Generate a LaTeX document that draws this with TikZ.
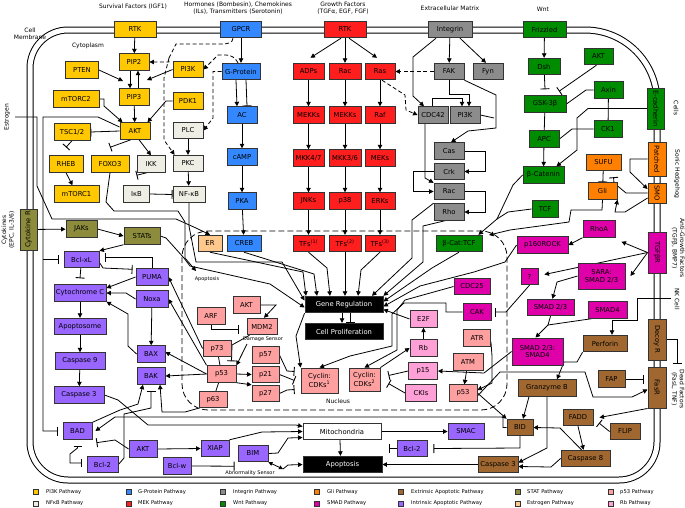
\documentclass[tikz,border=0pt]{standalone}
\usepackage{fontspec}
\usepackage{graphicx}
\setmainfont{DejaVu Sans}
\usetikzlibrary{arrows.meta}
\definecolor{cpi}{RGB}{255,200,0}
\definecolor{cnf}{RGB}{238,238,228}
\definecolor{cgp}{RGB}{51,136,255}
\definecolor{cmek}{RGB}{255,30,30}
\definecolor{cint}{RGB}{140,140,140}
\definecolor{cwnt}{RGB}{0,140,0}
\definecolor{cgli}{RGB}{255,128,0}
\definecolor{csmad}{RGB}{224,0,170}
\definecolor{cext}{RGB}{160,104,48}
\definecolor{cintr}{RGB}{153,102,255}
\definecolor{cstat}{RGB}{140,140,60}
\definecolor{cestr}{RGB}{255,200,140}
\definecolor{cpfs}{RGB}{255,160,160}
\definecolor{crb}{RGB}{255,160,215}
\pgfdeclarelayer{bg}
\pgfdeclarelayer{mid}
\pgfsetlayers{bg,mid,main}
\begin{document}
\begin{tikzpicture}[x=1pt,y=-1pt,
 box/.style={draw=black!80,line width=0.9pt,minimum height=16.5,inner sep=0.5pt,font=\fontsize{6.8}{7.6}\selectfont,align=center},
 w/.style={minimum width=#1},
 hh/.style={minimum height=#1},
 pik/.style={box,fill=cpi}, nfk/.style={box,fill=cnf}, gpb/.style={box,fill=cgp},
 mek/.style={box,fill=cmek}, igb/.style={box,fill=cint}, wnb/.style={box,fill=cwnt},
 glb/.style={box,fill=cgli}, smb/.style={box,fill=csmad}, exb/.style={box,fill=cext},
 itb/.style={box,fill=cintr}, stb/.style={box,fill=cstat}, esb/.style={box,fill=cestr},
 psb/.style={box,fill=cpfs}, rbb/.style={box,fill=crb}, bkb/.style={box,fill=black,text=white},
 whb/.style={box,fill=white},
 ar/.style={-{Triangle[length=4.5pt,width=4.5pt]},line width=0.8pt},
 inh/.style={-{Bar[width=9pt,line width=0.9pt]},line width=0.8pt},
 ln/.style={line width=0.8pt},
 da/.style={ar,dash pattern=on 4pt off 2.5pt},
 lab/.style={font=\fontsize{6}{7.4}\selectfont,align=center},
 sl/.style={font=\fontsize{5}{6}\selectfont},
 lg/.style={font=\fontsize{5.2}{6}\selectfont,anchor=west,inner sep=0pt},
 lq/.style={draw=black!80,line width=0.6pt,minimum size=5,inner sep=0pt}
]
\useasboundingbox (0,0) rectangle (685,507);

% ---------- membrane and nucleus ----------
\begin{pgfonlayer}{bg}
\fill[white] (0,0) rectangle (685,507);
\draw[line width=1pt,double distance=5pt] (30,250) [rounded corners=38] -- (30,30) -- (420,30) [rounded corners=72] -- (657,30) -- (657,250) [rounded corners=38] -- (657,480) -- (30,480) -- cycle;
\draw[ln,dash pattern=on 6pt off 3pt,rounded corners=26] (182,231) rectangle (507,410);
\end{pgfonlayer}

% ---------- labels ----------
\node[lab] (tSurv) at (133,7) {Survival Factors (IGF1)};
\node[lab] (tHorm) at (238,8) {Hormones (Bombesin), Chemokines\\(ILs), Transmitters (Serotonin)};
\node[lab] (tGrow) at (343,8) {Growth Factors\\(TGFα, EGF, FGF)};
\node[lab] (tECM) at (450,8) {Extracellular Matrix};
\node[lab] (tWnt) at (543,9) {Wnt};
\node[lab] (tCell) at (30,34) {Cell\\Membrane};
\node[lab] (tCyto) at (88,46) {Cytoplasm};
\node[lab,rotate=90] (tEstr) at (7,117) {Estrogen};
\node[lab,rotate=90] (tCytk) at (8,230) {Cytokines\\(EPC, IL-3/6)};
\node[lab,rotate=-90] (tCells) at (676,108) {Cells};
\node[lab,rotate=-90] (tSonic) at (677,174) {Sonic Hedgehog};
\node[lab,rotate=-90] (tAnti) at (678,248) {Anti-Growth Factors\\(TGFβ, BMP7)};
\node[lab,rotate=-90] (tNK) at (677,299) {NK Cell};
\node[lab,rotate=-90] (tDead) at (678,389) {Dead Factors\\(FasL, TNF)};
\node[sl] (tApo) at (207,279) {Apoptosis};
\node[sl] (tDmg) at (263,339) {Damage Sensor};
\node[sl] (tAbn) at (250,473) {Abnormality Sensor};
\node[lab] (tNuc) at (338,401) {Nucleus};

% ---------- PI3K / NFkB ----------
\node[pik,w=42] (RTK1) at (135,29.5) {RTK};
\node[pik,w=30] (PIP2) at (134,62) {PIP2};
\node[pik,w=33] (PTEN) at (82,70) {PTEN};
\node[pik,w=30] (PIP3) at (134,97) {PIP3};
\node[pik,w=46] (mTORC2) at (76,99) {mTORC2};
\node[pik,w=30] (PI3K1) at (188,69.5) {PI3K};
\node[pik,w=30] (PDK1) at (188,101) {PDK1};
\node[pik,w=30] (AKT1) at (135,131) {AKT};
\node[pik,w=36] (TSC) at (72,132) {TSC1/2};
\node[pik,w=34] (RHEB) at (66,164) {RHEB};
\node[pik,w=38] (FOXO3) at (110,164) {FOXO3};
\node[nfk,w=28] (IKK) at (151,164) {IKK};
\node[pik,w=45] (mTORC1) at (76.5,194) {mTORC1};
\node[nfk,w=26] (IkB) at (136.5,194) {IκB};
\node[nfk,w=32] (NFkB) at (189,194.5) {NF-κB};
\node[nfk,w=30] (PLC) at (188,130.5) {PLC};
\node[nfk,w=30] (PKC) at (188,163.5) {PKC};

% ---------- G-protein ----------
\node[gpb,w=41] (GPCR) at (241,29.5) {GPCR};
\node[gpb,w=38] (GProt) at (241,71.5) {G-Protein};
\node[gpb,w=30] (AC) at (242,115) {AC};
\node[gpb,w=30] (cAMP) at (242,157) {cAMP};
\node[gpb,w=28] (PKA) at (242,201) {PKA};
\node[gpb,w=34] (CREB) at (244,243.5) {CREB};
\node[esb,w=24] (ER) at (210,243.5) {ER};

% ---------- MEK ----------
\node[mek,w=42] (RTK2) at (345,29.5) {RTK};
\node[mek,w=31] (ADPs) at (308.5,71.5) {ADPs};
\node[mek,w=32] (Rac1) at (345,71.5) {Rac};
\node[mek,w=30] (Ras) at (380,71.5) {Ras};
\node[mek,w=31] (MEKKa) at (308.5,115) {MEKKs};
\node[mek,w=32] (MEKKb) at (345,115) {MEKKs};
\node[mek,w=30] (Raf) at (380,115) {Raf};
\node[mek,w=31] (MKK47) at (308.5,158) {MKK4/7};
\node[mek,w=32] (MKK36) at (345,158) {MKK3/6};
\node[mek,w=30] (MEKs) at (380,158) {MEKs};
\node[mek,w=31] (JNKs) at (308.5,201) {JNKs};
\node[mek,w=32] (p38) at (345,201) {p38};
\node[mek,w=30] (ERKs) at (380,201) {ERKs};
\node[mek,w=31] (TF1) at (308.5,243.5) {TFs\textsuperscript{(1)}};
\node[mek,w=32] (TF2) at (345,243.5) {TFs\textsuperscript{(2)}};
\node[mek,w=30] (TF3) at (380,243.5) {TFs\textsuperscript{(3)}};

% ---------- Integrin ----------
\node[igb,w=44] (Integrin) at (450,29.5) {Integrin};
\node[igb,w=30] (FAK) at (449,71.5) {FAK};
\node[igb,w=30] (Fyn) at (488,71.5) {Fyn};
\node[igb,w=30] (CDC42) at (433,115) {CDC42};
\node[igb,w=30] (PI3K2) at (465,115) {PI3K};
\node[igb,w=30] (Cas) at (449,151) {Cas};
\node[igb,w=30] (Crk) at (449,171.5) {Crk};
\node[igb,w=30] (Rac2) at (449,191.5) {Rac};
\node[igb,w=30] (Rho) at (449,212) {Rho};

% ---------- Wnt ----------
\node[wnb,w=43] (Frizzled) at (544.5,29.5) {Frizzled};
\node[wnb,w=32] (Dsh) at (544,66.5) {Dsh};
\node[wnb,w=29] (AKTw) at (598.5,56.5) {AKT};
\node[wnb,w=29] (Axin) at (608.5,90) {Axin};
\node[wnb,w=42] (GSK) at (545,104) {GSK-3β};
\node[wnb,w=28] (CK1) at (608,129) {CK1};
\node[wnb,w=30] (APC) at (544,139) {APC};
\node[wnb,w=41] (bCat) at (543.5,175) {β-Catenin};
\node[wnb,w=26] (TCF) at (545,209) {TCF};
\node[wnb,w=46] (bCatTCF) at (459,243.5) {β-Cat:TCF};
\node[wnb,w=17,hh=41] (Ecad) at (656,108.5) {\rotatebox{-90}{E-cadherin}};

% ---------- Gli ----------
\node[glb,w=35] (SUFU) at (603.5,162.5) {SUFU};
\node[glb,w=29] (Gli) at (602.5,191) {Gli};
\node[glb,w=18,hh=34] (Patched) at (657,159) {\rotatebox{-90}{Patched}};
\node[glb,w=18,hh=20] (SMO) at (657,193) {\rotatebox{-90}{SMO}};

% ---------- SMAD ----------
\node[smb,w=18,hh=41] (TGFbR) at (657,252.5) {\rotatebox{-90}{TGFβR}};
\node[smb,w=32] (RhoA) at (599,229) {RhoA};
\node[smb,w=51] (p160) at (542.5,245) {p160ROCK};
\node[smb,w=17] (Q) at (529.5,276.5) {?};
\node[smb,w=47,hh=26] (SARA) at (601.5,276) {SARA:\\SMAD 2/3};
\node[smb,w=47] (SMAD23) at (550.5,307.5) {SMAD 2/3};
\node[smb,w=39] (SMAD4) at (607.5,310) {SMAD4};
\node[smb,w=51,hh=27] (SMADc) at (537.5,351.5) {SMAD 2/3:\\SMAD4};
\node[smb,w=36] (CDC25) at (472,286.5) {CDC25};
\node[smb,w=28] (CAK) at (477,312) {CAK};

% ---------- extrinsic apoptosis ----------
\node[exb,w=18,hh=41] (DecoyR) at (657,339.5) {\rotatebox{-90}{Decoy R}};
\node[exb,w=18,hh=41] (FasR) at (657,387.5) {\rotatebox{-90}{FasR}};
\node[exb,w=44] (Perforin) at (605,343.5) {Perforin};
\node[exb,w=27] (FAP) at (611.5,379) {FAP};
\node[exb,w=58] (GranzB) at (547,388) {Granzyme B};
\node[exb,w=30] (FADD) at (578,417.5) {FADD};
\node[exb,w=30] (FLIP) at (625,431.5) {FLIP};
\node[exb,w=49] (Casp8) at (585.5,458.5) {Caspase 8};
\node[exb,w=26] (BID) at (520,427.5) {BID};
\node[exb,w=40] (Casp3b) at (498,464.5) {Caspase 3};

% ---------- STAT ----------
\node[stb,w=17,hh=41] (CytR) at (28.5,229.5) {\rotatebox{90}{Cytokine R}};
\node[stb,w=31] (JAKs) at (81.5,229) {JAKs};
\node[stb,w=36] (STATs) at (142,236) {STATs};

% ---------- intrinsic apoptosis ----------
\node[itb,w=35] (BclxL) at (81.5,259.5) {Bcl-xL};
\node[itb,w=52] (CytC) at (80,293) {Cytochrome C};
\node[itb,w=52] (Apoptosome) at (80,326.5) {Apoptosome};
\node[itb,w=50] (Casp9) at (80,361) {Caspase 9};
\node[itb,w=50] (Casp3a) at (79,395) {Caspase 3};
\node[itb,w=32] (PUMA) at (152,277) {PUMA};
\node[itb,w=32] (Noxa) at (152,299) {Noxa};
\node[itb,w=28] (BAX) at (151,354) {BAX};
\node[itb,w=28] (BAK) at (151,376) {BAK};
\node[itb,w=29] (BAD) at (77.5,431) {BAD};
\node[itb,w=28] (AKTi) at (143,449) {AKT};
\node[itb,w=31] (Bcl2a) at (102.5,464.5) {Bcl-2};
\node[itb,w=28] (Bclw) at (177,466) {Bcl-w};
\node[itb,w=28] (XIAP) at (215,448.5) {XIAP};
\node[itb,w=30] (BIM) at (253,453.5) {BIM};
\node[itb,w=36] (SMAC) at (466,431.5) {SMAC};
\node[itb,w=30] (Bcl2b) at (412,448.5) {Bcl-2};

% ---------- p53 / Rb ----------
\node[psb,w=28] (ARF) at (211,316) {ARF};
\node[psb,w=27] (AKTp) at (246.5,305) {AKT};
\node[psb,w=30] (MDM2) at (262,326.5) {MDM2};
\node[psb,w=28] (p73) at (217,348.5) {p73};
\node[psb,w=29] (p53a) at (221.5,374) {p53};
\node[psb,w=28] (p63) at (213,399.5) {p63};
\node[psb,w=27] (p57) at (265.5,355) {p57};
\node[psb,w=27] (p21) at (265.5,374.5) {p21};
\node[psb,w=27] (p27) at (265.5,393.5) {p27};
\node[psb,w=37,hh=25] (CycA) at (319.5,380.5) {Cyclin:\\CDKs\textsuperscript{1}};
\node[psb,w=31,hh=23] (CycB) at (364.5,379.5) {Cyclin:\\CDKs\textsuperscript{2}};
\node[psb,w=27] (ATR) at (477,338) {ATR};
\node[psb,w=30] (ATM) at (468,362) {ATM};
\node[psb,w=28] (p53b) at (463,393) {p53};
\node[rbb,w=27] (E2F) at (423.5,319) {E2F};
\node[rbb,w=27] (Rb) at (423.5,348) {Rb};
\node[rbb,w=29] (p15) at (423,371) {p15};
\node[rbb,w=31] (CKIs) at (421,393) {CKIs};

% ---------- outputs ----------
\node[bkb,w=78] (GeneReg) at (344,304.5) {Gene Regulation};
\node[bkb,w=78] (CellProl) at (344,331.5) {Cell Proliferation};
\node[whb,w=78] (Mito) at (342,431.5) {Mitochondria};
\node[bkb,w=79] (Apop) at (342.5,464.5) {Apoptosis};

% ---------- free ends ----------
\coordinate (estr) at (15,117);
\coordinate (nk) at (671,298);
\coordinate (dead) at (677,364);
\coordinate (dmg) at (247,344);
\coordinate (abn) at (283,469);
\coordinate (pipL) at (123,81);
\coordinate (pipR) at (147,80);
\coordinate (dj) at (169,58);
\coordinate (jTCF) at (497,219);
\coordinate (jSM) at (548,325);
\coordinate (jAKT) at (43,259.5);
\coordinate (apoL) at (196,271);
\coordinate (nucG) at (489,235);

% ---------- connectors ----------
\begin{pgfonlayer}{mid}
% PI3K
\draw[ar] (RTK1) -- (PIP2);
\draw[ar] ([xshift=-4pt]PIP2.south) -- ([xshift=-4pt]PIP3.north);
\draw[ar] ([xshift=4pt]PIP3.north) -- ([xshift=4pt]PIP2.south);
\draw[ar] (PTEN.east) -- (pipL);
\draw[ar] (PI3K1.west) -- (pipR);
\draw[ar] (PIP3) -- (AKT1);
\draw[ar] (mTORC2.east) -- (104,99) -- (104,106) -- ([xshift=3pt]AKT1.north west);
\draw[ar] (PDK1.west) -- (166,101) -- ([xshift=-3pt]AKT1.north east);
\draw[inh] (AKT1.west) -- (TSC.east);
\draw[inh] ([yshift=4pt]AKT1.west) -- (98,117) -- (43,117) -- (43,431) -- ([xshift=-5pt]BAD.west);
\draw[inh] (jAKT) -- ([xshift=-5pt]BclxL.west);
\draw[inh] (TSC.south) -- ([yshift=8pt]RHEB.north);
\draw[inh] ([xshift=-4pt]AKT1.south) -- ([yshift=8pt]FOXO3.north);
\draw[ar] ([xshift=4pt]AKT1.south) -- (IKK.north);
\draw[ar] (RHEB.south) -- ([xshift=-4pt]mTORC1.north);
\draw[inh] ([xshift=-4pt]IKK.south) -- ([yshift=10pt]IkB.north);
\draw[inh] (IkB.east) -- (NFkB.west);
\draw[ar] (PLC) -- (PKC);
\draw[ar] (PKC) -- (NFkB);
\draw[da] ([xshift=-8pt]GPCR.south) to[out=-90,in=0] (222,44) -- (176,44) -- (dj) -- (169,62) -- (PIP2.east);
\draw[da] (dj) -- (164,78) -- (164,140) -- ([xshift=2pt]PKC.north west);
\draw[da] ([xshift=-3pt]GProt.north) to[out=120,in=0] (226,55) -- (218,55) -- (PI3K1.east);
\draw[da] (GProt.west) -- (213,71.5) -- (213,118) -- (PLC.east);
% G-protein
\draw[ar] (GPCR) -- (GProt);
\draw[ar] ([xshift=-5pt]GProt.south) -- ([xshift=-5pt]AC.north);
\draw[inh] ([xshift=5pt]GProt.south) -- ([xshift=5pt]AC.north);
\draw[ar] (AC) -- (cAMP);
\draw[ar] (cAMP) -- (PKA);
\draw[ar] (PKA) -- (CREB);
% MEK
\draw[ar] ([xshift=-4pt]RTK2.south) -- ([xshift=2pt,yshift=5pt]ADPs.north);
\draw[ar] (RTK2) -- (Rac1);
\draw[ar] ([xshift=4pt]RTK2.south) -- ([xshift=-3pt,yshift=5pt]Ras.north);
\draw[ar] (ADPs) -- (MEKKa); \draw[ar] (MEKKa) -- (MKK47); \draw[ar] (MKK47) -- (JNKs); \draw[ar] (JNKs) -- (TF1);
\draw[ar] (Rac1) -- (MEKKb); \draw[ar] (MEKKb) -- (MKK36); \draw[ar] (MKK36) -- (p38); \draw[ar] (p38) -- (TF2);
\draw[ar] (Ras) -- (Raf); \draw[ar] (Raf) -- (MEKs); \draw[ar] (MEKs) -- (ERKs); \draw[ar] (ERKs) -- (TF3);
\draw[da] (FAK.west) -- (Ras.east);
\draw[da] ([xshift=2pt]Ras.south) -- (405,95) -- (406,110) -- (CDC42.west);
% Integrin
\draw[ar] (Integrin) -- (FAK);
\draw[ar] ([xshift=10pt]Integrin.south) -- ([xshift=-2pt]Fyn.north);
\draw[ar] ([xshift=-14pt]Integrin.south) -- (413,57) -- (413,96) -- ([xshift=-9pt]CDC42.north);
\draw[ar] (FAK.south) -- (449,94) -| ([xshift=4pt]PI3K2.north);
\draw[ar] ([xshift=-1pt]CDC42.north) -- (432,98) -| ([xshift=-3pt]PI3K2.north);
\draw[ar] (FAK.south east) -- (496,95) -- (496,128) -- (468,131) -- ([xshift=2pt]Cas.north);
\draw[ln] (PI3K2.east) -- (494,118);
\draw[ar] (Cas.east) -- (485,151) |- (Crk.east);
\draw[ar] (Crk.west) -- (413,171.5) |- (Rac2.west);
\draw[ar] ([xshift=-8pt]CDC42.south) -- (425,178) -- (Rac2.north west);
\draw[ar] (Rac2.east) -- (485,191.5) |- (Rho.east);
% Wnt
\draw[ar] (Frizzled) -- (Dsh);
\draw[inh] (Dsh) -- ([yshift=6pt]GSK.north);
\draw[inh] ([xshift=-2pt]AKTw.south) -- ([xshift=14pt,yshift=4pt]GSK.north);
\draw[ln] (Axin.west) -- (586,90) -- (GSK.east);
\draw[ln] (Axin) -- (CK1);
\draw[ln] (CK1.west) -- (572,129) -- (APC.east);
\draw[ln] (GSK) -- (APC);
\draw[ar] (APC) -- (bCat);
\draw[ar] (Ecad.west) -- (588,108.5) -- (577,118) -- (577,150) -- ([xshift=-8pt]bCat.north east);
\draw[ln] (bCat.west) -- (513,185) -- (jTCF);
\draw[ln] (TCF.west) -- (508,212) -- (jTCF);
\draw[ar] (jTCF) -- ([xshift=-4pt]bCatTCF.north east);
% Gli
\draw[ar] (Patched.west) -- (630,159) -- (630,172) -- ([yshift=4pt]SMO.west);
\draw[inh] (SMO.west) -- (626,193) -- (614,183) -- ([xshift=10pt,yshift=-6pt]SUFU.south);
\draw[ar] ([yshift=-5pt]SMO.west) -- (625,212) -- (615,212) -- (Gli.south east);
\draw[inh] (SUFU) -- (Gli);
\draw[ar] (Gli.south) -- (602,210) -- (571,210) -- (569,222) -- (510,230) -- (nucG);
% SMAD
\draw[ar] (TGFbR.west) -- ([xshift=6pt,yshift=-4pt]RhoA.south east);
\draw[ar] (TGFbR.west) -- ([xshift=6pt,yshift=2pt]Q.east);
\draw[ar] (TGFbR.west) -- ([xshift=5pt]SARA.east);
\draw[ar] (RhoA.south west) -- (p160.east);
\draw[ar] (SARA.west) -- (557,282) -- ([xshift=2pt]SMAD23.north);
\draw[ln] (SMAD23.south) -- (jSM);
\draw[ln] ([xshift=4pt]SMAD4.south west) -- (jSM);
\draw[ar] (jSM) -- ([xshift=-2pt]SMADc.north);
\draw[inh] (Q.south) -- (506,312) -- ([xshift=4pt]CAK.east);
\draw[ar] (p160.west) -- (505,262) -- (474,272) -- (420,286) -- ([yshift=-2pt]GeneReg.east);
\draw[ar] (SMADc.west) -- (484,373) -- (p15.east);
% nucleus gene regulation inputs
\draw[ar] (TF1.south) -- (327,268) -- ([xshift=-14pt]GeneReg.north);
\draw[ar] (TF2) -- ([xshift=1pt]GeneReg.north);
\draw[ar] (TF3.south) -- (361,270) -- ([xshift=14pt]GeneReg.north);
\draw[ar] (CREB.south) -- (314,274) -- ([xshift=-27pt]GeneReg.north);
\draw[ar] (ER.south) -- (303,272) -- ([xshift=-38pt]GeneReg.north);
\draw[ar] ([yshift=-3pt]Rac2.south west) -- (412,220) -- (412,258) -- ([xshift=28pt]GeneReg.north);
\draw[ar] ([xshift=-4pt]Rho.south) -- (423,226) -- (423,262) -- (GeneReg.north east);
\draw[ar] (bCatTCF.south) -- (432,268) -- ([yshift=3pt]GeneReg.east);
\draw[ar] (E2F.west) -- ([yshift=-5pt]GeneReg.east);
\draw[ar] (NFkB.south) -- (189,226) -- (196,262) -- (282,262) -- ([yshift=4pt]GeneReg.west);
\draw[ar] (STATs.east) -- (166,238) -- (184,258) -- (190,266) -- (270,284) -- ([yshift=-3pt]GeneReg.west);
\draw[ar] (FOXO3.south) -- (106,202) -- (114,211) -- (178,211) -- (185,222) -- (185,258) -- (apoL);
\draw[ar] (estr) -- (37,117) -- (37,186) -- (52,219) -- (176,219) -- (196,228) -- (ER.north);
\draw[ar] ([xshift=-2pt]GeneReg.south) -- ([xshift=-2pt]CellProl.north);
\draw[inh] ([xshift=6pt]GeneReg.south) -- ([xshift=6pt]CellProl.north);
% p53 / Rb
\draw[inh] (ARF.south) |- ([xshift=-8pt,yshift=-3pt]MDM2.west);
\draw[ar] (AKTp.east) -- (276,305) -- ([xshift=2pt]MDM2.north);
\draw[inh] ([xshift=3pt]MDM2.south west) -- (232,345) -- ([xshift=10pt,yshift=4pt]p53a.north);
\draw[ar] (dmg) -- (p53a.north east);
\draw[ln] (p73) -- (p53a);
\draw[ln] (p63) -- (p53a);
\draw[ar] (p53a.east) -- (p21.west);
\draw[ar] (p53a.south east) -- (p27.north west);
\draw[inh] (p57.east) -- (287,371) -- ([xshift=-6pt,yshift=9pt]CycA.west);
\draw[inh] (p21.east) -- ([xshift=-6pt]CycA.west);
\draw[inh] (p27.east) -- (287,390) -- ([xshift=-6pt,yshift=-9pt]CycA.west);
\draw[ar] (GeneReg.south west) -- (296,336) -- (CycA.north west);
\draw[ar] (CDC25.west) -- (405,300) -- (397,310) -- (397,350) -- (CycB.north);
\draw[ar] (CAK.west) -- (446,312) -- (446,303) -- (404,303) -- (392,314) -- (392,346) -- (350,356) -- (CycA.north);
\draw[ar] (Rb) -- (E2F);
\draw[ar] (CycB.north east) -- (Rb.west);
\draw[inh] (p15.west) -- ([xshift=8pt,yshift=4pt]CycB.east);
\draw[inh] (CKIs.west) -- ([xshift=8pt,yshift=-4pt]CycB.east);
\draw[ar] (ATM) -- (p53b);
\draw[ar] ([yshift=-4pt]ATR.east) -- (492,356) -- (492,383) -- ([yshift=3pt]p53b.east);
\draw[ar] (p53b.east) -- (BID.north west);
\draw[ar] ([yshift=-3pt]p53b.east) -- (500,372) -- (585,372) -- (593,397) -- (632,397) -- ([yshift=-2pt]FasR.west);
% extrinsic
\draw[ar] (nk) -| (637,320) -| ([xshift=7pt]Perforin.north);
\draw[ar] (Perforin.south west) -- (577,362) -- (564,362) -- ([xshift=10pt]GranzB.north);
\draw[ar] ([xshift=-18pt]GranzB.south) -- ([xshift=3pt]BID.north);
\draw[ar] (GranzB.south) -- (547,448) -- ([yshift=2pt]Casp3b.east);
\draw[ar] (Casp8.west) -- (551,467) -- ([yshift=-2pt]Casp3b.east);
\draw[ar] ([xshift=-4pt]Casp8.north) -- (560,428) -- (BID.east);
\draw[ar] (FADD.south) -- ([xshift=-2pt]Casp8.north);
\draw[inh] (FLIP.west) -- (599,423);
\draw[ar] (FasR.south west) -- ([xshift=6pt]FADD.east);
\draw[inh] (FAP.east) -- ([xshift=-4pt]FAP.east -| FasR.west);
\draw[inh] (DecoyR.east) -| (dead);
\draw[inh] (BID.south) -- (520,448) -- ([xshift=6pt]Bcl2b.east);
\draw[inh] (Bcl2b.west) -- ([xshift=8pt]Bcl2b.west -| Mito.east);
\draw[ar] (BID.west) -- (503,427.5) -- (503,417) -- (115,417) -- ([xshift=3pt]BAD.east);
\draw[ar] ([xshift=-2pt]Mito.south) -- ([xshift=-2pt]Apop.north);
\draw[ar] (Mito) -- (SMAC);
\draw[ar] (Casp3b) -- (Apop);
% STAT / intrinsic
\draw[ar] (CytR) -- (JAKs);
\draw[ar] (JAKs.east) -- (STATs.west);
\draw[ar] (STATs.south west) -- (BclxL.north east);
\draw[inh] (BclxL) -- ([yshift=6pt]CytC.north);
\draw[inh] (PUMA.north) |- ([xshift=6pt,yshift=2pt]BclxL.east);
\draw[inh] ([yshift=-3pt]BclxL.east) -- (103,268) -- ([xshift=-3pt,yshift=-1pt]PUMA.north west);
\draw[ar] (PUMA.west) -- ([yshift=5pt]CytC.east);
\draw[ar] (Noxa.west) -- (126,293) -- (CytC.east);
\draw[ar] (CytC) -- (Apoptosome);
\draw[ar] (Apoptosome) -- (Casp9);
\draw[ar] (Casp9) -- (Casp3a);
\draw[ar] (BAX.west) -- (128,346) -- (128,314) -- (CytC.south east);
\draw[ar] (Noxa) -- (BAX);
\draw[ar] (p53a.west) -- ([yshift=2pt]BAX.east);
\draw[ar] (p53a.west) -- (BAK.east);
\draw[ar] (p53a.north west) -- (Noxa.east);
\draw[ar] (p73.west) -- (PUMA.east);
\draw[ar] (BAD.north east) -- (120,410) -- (138,404) -- ([xshift=-8pt]BAK.south);
\draw[inh] (Bcl2a.east) -- (124,458) -- (124,414) -- (151,408) -- ([yshift=-6pt]BAK.south);
\draw[ar] (p63.south west) -- (185,412) -- (162,412) -- ([xshift=9pt]BAK.south);
\draw[{Bar[width=8pt,line width=0.9pt]}-{Bar[width=8pt,line width=0.9pt]},ln] ([yshift=-6pt]BAD.south) -- (77.5,448) -- (70,454) -- (70,463) -- ([xshift=-5pt,yshift=1.5pt]Bcl2a.west);
\draw[inh] (AKTi.west) -- (115,440) -- ([xshift=4pt,yshift=-3pt]BAD.south east);
\draw[ar] (AKTi.east) -- (XIAP.west);
\draw[inh] (Bclw.east) -- ([xshift=-3pt,yshift=-4pt]BIM.south west);
\draw[ar] (BIM.east) -- (278,453) -- (288,438) -- ([yshift=-6pt]Mito.west);
\draw[ar] (Casp3a.east) -- (118,400) -- (148,425) -- (296,425) -- ([yshift=5pt]Mito.west);
\draw[ar] (XIAP.north east) -- (262,432) -- (Mito.west);
\draw[{Triangle[length=4pt,width=4pt]}-{Triangle[length=4pt,width=4pt]},ln] (BIM.south east) -- (abn);
\draw[ar] (abn) -- (288,465) -- (Apop.west);
\end{pgfonlayer}

% ---------- legend ----------
\node[lq,fill=cpi] (q1) at (35.5,492) {}; \node[lg] (g1) at (46,492) {PI3K Pathway};
\node[lq,fill=cnf] (q2) at (35.5,503.5) {}; \node[lg] (g2) at (46,503.5) {NFκB Pathway};
\node[lq,fill=cgp] (q3) at (129,492) {}; \node[lg] (g3) at (138,492) {G-Protein Pathway};
\node[lq,fill=cmek] (q4) at (129,503.5) {}; \node[lg] (g4) at (138,503.5) {MEK Pathway};
\node[lq,fill=cint] (q5) at (222.5,492) {}; \node[lg] (g5) at (233,492) {Integrin Pathway};
\node[lq,fill=cwnt] (q6) at (222.5,503.5) {}; \node[lg] (g6) at (233,503.5) {Wnt Pathway};
\node[lq,fill=cgli] (q7) at (316.5,492) {}; \node[lg] (g7) at (327,492) {Gli Pathway};
\node[lq,fill=csmad] (q8) at (316.5,503.5) {}; \node[lg] (g8) at (327,503.5) {SMAD Pathway};
\node[lq,fill=cext] (q9) at (400.5,492) {}; \node[lg] (g9) at (411,492) {Extrinsic Apoptotic Pathway};
\node[lq,fill=cintr] (q10) at (400.5,503.5) {}; \node[lg] (g10) at (411,503.5) {Intrinsic Apoptotic Pathway};
\node[lq,fill=cstat] (q11) at (517.5,492) {}; \node[lg] (g11) at (527,492) {STAT Pathway};
\node[lq,fill=cestr] (q12) at (517.5,503.5) {}; \node[lg] (g12) at (527,503.5) {Estrogen Pathway};
\node[lq,fill=cpfs] (q13) at (610.5,492) {}; \node[lg] (g13) at (620,492) {p53 Pathway};
\node[lq,fill=crb] (q14) at (610.5,503.5) {}; \node[lg] (g14) at (620,503.5) {Rb Pathway};
\end{tikzpicture}
\end{document}
